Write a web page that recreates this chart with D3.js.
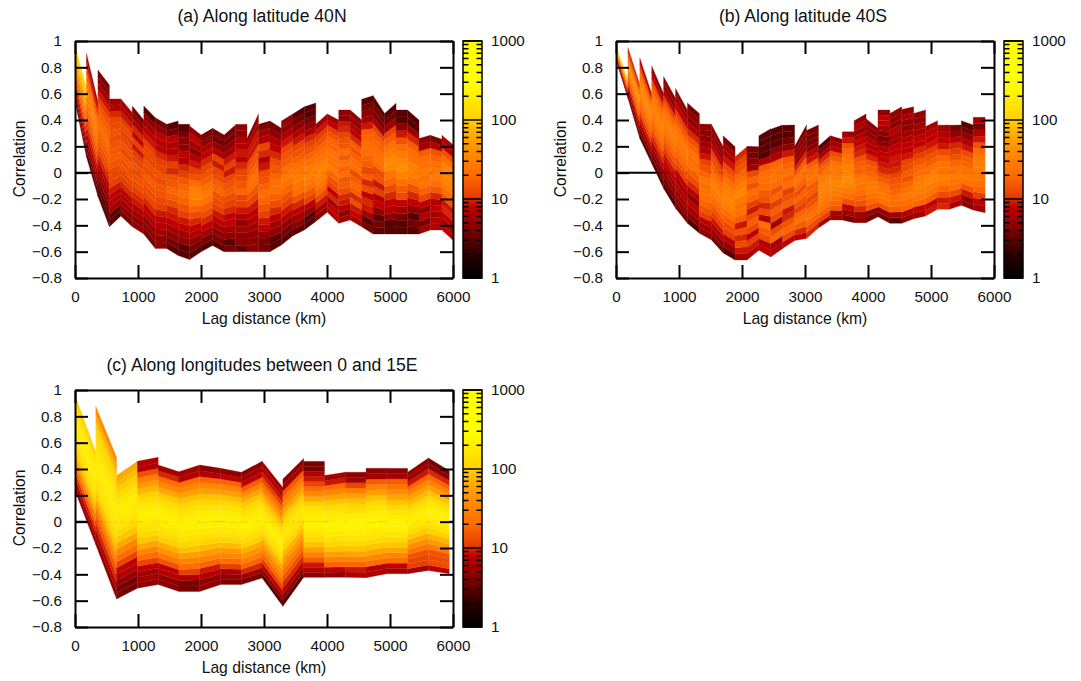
<!DOCTYPE html>
<html>
<head>
<meta charset="utf-8">
<script src="https://cdn.jsdelivr.net/npm/d3@7"></script>
<style>
  body { margin: 0; background: #fff; }
  text { font-family: "Liberation Sans", Arial, sans-serif; fill: #111; }
</style>
</head>
<body>
<span id="chart"></span>
<script>
// (a) along latitude 40N: column edges (km), top edge of each column at its two sides, bottom outline
let northLag = [0,182,364,546,728,910,1092,1274,1456,1638,1820,2002,2184,2366,2548,2730,2912,3094,3276,3458,3640,3822,4004,4186,4368,4550,4732,4914,5096,5278,5460,5642,5824,6006];
let northTopStart = [.97,.906,.78,.56,.56,.506,.506,.418,.367,.367,.354,.286,.337,.286,.367,.26,.367,.392,.392,.446,.50,.367,.446,.476,.476,.557,.585,.45,.476,.476,.26,.284,.284];
let northTopEnd = [.64,.54,.666,.56,.456,.40,.418,.367,.392,.367,.286,.337,.286,.362,.367,.446,.392,.337,.446,.50,.53,.446,.40,.476,.40,.585,.45,.527,.476,.40,.284,.253,.21];
let northBottom = [.54,.12,-.18,-.41,-.33,-.41,-.466,-.575,-.575,-.63,-.66,-.6,-.554,-.6,-.6,-.6,-.6,-.6,-.55,-.48,-.435,-.37,-.30,-.385,-.36,-.41,-.466,-.466,-.466,-.466,-.466,-.435,-.435,-.516];
// counts per stripe, bottom to top
let northCounts = [
  [4,5,7,9,12,16,24,34,50,70,90,110],
  [3,4,6,7,9,11,14,18,22,26,30,26,20,14,9,6],
  [3,3,4,5,6,8,10,12,14,16,18,20,18,16,14,11,9,6,5,4],
  [3,3,6,7,8,9,11,12,13,14,16,15,14,13,14,13,12,10,7,6],
  [4,5,6,7,8,10,11,12,14,14,15,12,14,12,11,13,11,9,7,6],
  [5,5,6,7,9,10,11,13,14,13,14,12,11,9,11,8,10,7,5,4],
  [4,5,5,7,8,10,12,13,14,16,13,14,12,12,11,9,8,6,5,3],
  [5,5,6,7,8,9,11,12,14,15,13,14,12,11,10,8,7,8,5,4],
  [3,4,5,6,8,9,10,13,16,18,15,14,10,11,9,7,7,8,4,3],
  [3,3,5,6,8,9,11,14,17,20,18,15,11,10,7,8,5,5,4,3],
  [3,4,5,7,8,10,13,18,26,34,30,20,14,11,9,7,5,6,8,5],
  [3,4,6,8,10,13,16,22,26,20,16,14,12,10,8,7,5,4],
  [3,4,5,6,8,9,11,13,14,18,16,13,12,9,11,7,5,4,4],
  [4,3,5,6,8,8,10,11,13,16,14,12,9,11,9,6,5,4,4],
  [3,5,5,6,5,7,9,11,12,18,15,13,12,10,8,9,7,7,5,5],
  [5,5,5,6,7,8,9,12,15,20,22,18,15,13,9,9,7,5],
  [4,4,5,8,9,11,14,18,20,17,14,13,9,7,10,12,7,6,4],
  [3,3,5,6,8,10,13,17,20,22,18,15,13,10,8,7,5,4],
  [3,4,5,7,9,11,14,18,22,26,20,16,14,12,9,7,5,5],
  [3,5,6,8,10,14,20,24,28,24,20,17,14,12,9,7,5,4,3],
  [3,3,5,8,11,15,20,26,30,28,22,18,14,12,10,7,5,4,3,3],
  [5,6,9,13,18,24,28,32,30,24,20,18,14,11,9,6],
  [7,8,6,10,8,12,14,18,26,22,24,22,18,18,14,11,8,6],
  [6,5,7,9,10,13,16,15,22,18,22,16,20,15,14,12,10,9,5,5],
  [6,8,9,13,10,16,18,16,13,22,20,17,14,16,10,8,7,5,5],
  [4,3,6,9,10,8,13,10,16,12,16,18,20,20,18,16,9,6,5,4,3],
  [3,4,3,5,8,7,11,9,14,13,20,22,20,18,16,12,6,4,4,3],
  [3,3,5,7,8,10,13,18,24,34,38,28,22,16,12,6,4,3],
  [3,3,4,6,8,13,16,22,34,42,36,28,20,14,9,5,3,3],
  [3,4,3,5,8,10,14,22,30,30,24,20,16,10,6,3,3],
  [6,4,7,5,8,12,17,24,22,26,22,20,16,6,5],
  [7,7,6,8,7,10,15,20,26,24,22,18,14,7,4],
  [8,6,8,10,9,15,20,28,32,36,32,22,14,8,7]
];

// (b) along latitude 40S
let southLag = [0,189,378,567,756,945,1134,1323,1512,1701,1890,2079,2268,2457,2646,2835,3024,3213,3402,3591,3780,3969,4158,4347,4536,4725,4914,5103,5292,5481,5670,5859];
let southTopStart = [.96,.95,.87,.81,.73,.64,.53,.37,.37,.28,.12,.2,.28,.33,.36,.2,.32,.2,.28,.31,.395,.41,.476,.45,.48,.45,.35,.36,.36,.395,.42];
let southTopEnd = [.70,.67,.60,.60,.565,.476,.45,.367,.197,.197,.197,.197,.334,.362,.362,.362,.362,.281,.253,.311,.446,.337,.476,.50,.50,.476,.395,.362,.362,.362,.42];
let southBottom = [.856,.565,.26,.07,-.12,-.27,-.385,-.46,-.51,-.61,-.663,-.663,-.59,-.64,-.575,-.516,-.5,-.42,-.36,-.36,-.38,-.38,-.335,-.385,-.385,-.35,-.33,-.278,-.278,-.248,-.284,-.304];
let southCounts = [
  [4,6,9,13,22,40,70,100],
  [4,5,8,11,16,22,32,42,30,16,10],
  [3,5,6,9,12,16,20,26,32,38,28,20,12,8],
  [3,4,5,8,10,13,17,22,26,30,28,22,18,13,8,5],
  [3,4,5,6,8,9,11,14,18,22,26,28,24,18,12,8,5,5],
  [4,5,6,7,6,8,11,14,18,20,24,26,20,15,11,8,6,5],
  [3,5,6,8,5,7,10,13,16,22,20,24,18,14,10,7,5,5,4],
  [5,6,8,11,14,18,22,24,20,24,18,14,12,9,7,6,5,5,5],
  [4,5,7,9,11,14,18,22,26,30,24,20,16,13,11,8,6,5,5],
  [3,5,8,11,13,16,20,28,34,30,26,20,16,13,9,7,6,4],
  [6,9,13,10,14,9,16,22,20,26,34,28,22,18,14,12,10],
  [7,9,11,8,12,16,13,9,11,18,20,14,18,13,6,5,4,4],
  [8,7,13,16,22,7,13,10,14,16,20,22,20,16,7,3,3,3,3],
  [7,6,18,13,6,13,16,11,18,14,20,24,22,18,7,5,3,3,3],
  [8,13,18,14,10,9,16,14,11,20,18,22,18,15,9,5,4,3,3],
  [8,10,16,22,18,11,14,18,13,17,20,24,16,10,6,5,5,4],
  [10,13,18,22,18,14,12,16,15,22,24,20,16,9,8,5,4,4,4],
  [6,11,16,22,24,28,30,32,30,26,24,18,14,10,7,4,3],
  [6,6,15,18,22,26,30,34,30,26,26,24,16,13,8,6,5],
  [4,6,8,14,20,26,32,38,34,30,26,22,18,14,9,6],
  [5,6,10,14,17,20,24,26,22,18,16,14,10,9,8,7,5,7,5],
  [4,5,14,18,22,26,26,22,18,16,14,10,8,7,7,5,5,5],
  [4,5,14,22,26,22,20,16,13,10,9,8,8,7,5,4,5,6,8,8,5],
  [3,6,16,20,22,18,16,14,12,10,9,9,8,8,6,6,7,5,5,5],
  [5,7,18,20,26,22,18,14,16,13,12,9,8,8,7,6,5,5,7,5],
  [6,8,18,24,28,30,26,20,18,15,11,10,8,8,6,6,5,5],
  [9,8,16,22,26,34,28,22,16,14,11,9,8,8,6],
  [10,9,13,18,26,30,22,24,18,13,9,8,7,6],
  [7,9,13,20,24,26,22,18,14,11,10,8,5,4],
  [5,5,9,14,22,26,22,18,16,13,9,7,5,4,3],
  [6,8,11,18,22,26,28,30,26,20,14,9,7,4,6]
];

// (c) along longitudes between 0 and 15E
let meridLag = [0,330,660,990,1320,1650,1980,2310,2640,2970,3300,3630,3960,4290,4620,4950,5280,5610,5940];
let meridTopStart = [.962,.876,.35,.458,.43,.38,.43,.405,.375,.458,.324,.458,.35,.375,.405,.405,.375,.484];
let meridTopEnd = [.527,.489,.458,.489,.38,.43,.405,.375,.458,.26,.48,.458,.375,.375,.405,.405,.484,.387];
let meridBottom = [.235,-.175,-.587,-.506,-.478,-.53,-.53,-.478,-.478,-.428,-.643,-.423,-.423,-.423,-.425,-.395,-.395,-.37,-.395];
let meridCounts = [
  [5,7,10,16,30,55,85,115,145,170,190,200,190,170,140,100],
  [5,7,10,15,26,50,85,120,150,175,190,190,175,150,125,100,70,40],
  [4,4,5,7,8,12,20,34,60,90,120,150,175,190,190,165,130,100,80,65],
  [5,6,6,8,12,20,36,60,90,120,150,175,200,210,180,140,105,75,50,30,14,7,7],
  [5,5,7,8,14,26,45,70,100,130,160,190,210,200,170,130,95,65,36,20,10,6],
  [4,4,7,11,20,34,55,85,115,150,180,210,210,180,150,115,85,55,36,20,7,6],
  [5,5,7,9,18,32,50,80,110,145,175,205,215,195,155,115,85,55,36,18,7,5],
  [4,5,7,11,20,34,50,80,110,145,180,205,215,195,155,115,85,55,34,18,8,5],
  [4,6,10,18,30,46,70,100,135,170,200,215,190,155,120,90,60,34,16,8,6,5],
  [3,5,8,11,18,30,46,70,100,135,170,200,195,160,125,90,60,36,20,12,9,7,6],
  [3,5,7,10,14,20,32,50,75,105,140,160,160,130,95,65,40,25,15,6,5],
  [5,7,9,16,30,55,85,120,160,190,210,210,185,150,105,70,40,20,12,9,7,4,4],
  [5,8,18,32,55,85,115,150,185,215,225,200,165,125,90,60,36,20,9,6],
  [7,9,18,34,60,90,125,160,195,225,225,195,155,115,85,55,30,12,6,5],
  [7,7,20,36,60,90,125,160,195,225,225,195,160,120,85,55,32,16,6,5],
  [6,8,20,36,60,90,125,165,205,225,205,165,125,90,60,40,24,16,6,5],
  [6,11,12,14,24,42,65,95,130,170,200,190,155,115,80,55,34,18,9,6,5],
  [8,13,13,14,28,50,75,105,145,180,205,205,170,130,90,55,32,18,10,5,4]
];

// shared axis ticks
let xTicks = [0,1000,2000,3000,4000,5000,6000];
let yTicks = [-0.8,-0.6,-0.4,-0.2,0,0.2,0.4,0.6,0.8,1];
let barTicks = [1,10,100,1000];
let barMinor = [2,3,4,5,6,7,8,9,20,30,40,50,60,70,80,90,200,300,400,500,600,700,800,900];

// palette
let paletteCounts = [1,2,3,5,8,10,11,20,40,70,100,200,300,1000];
let paletteColors = ["#000000","#2a0000","#580000","#900000","#c00000","#d42800","#e64000","#ff6c00","#ff8c00","#ffae00","#ffd000","#ffee00","#ffff00","#ffff00"];

let svg = d3.select("#chart").append("svg")
    .attr("width", 1081)
    .attr("height", 681)
    .style("display", "block");

let color = d3.scaleLog().domain(paletteCounts).range(paletteColors).clamp(true);

function drawPanel(p) {
    let left = p.left, top = p.top;
    let right = left + 378, bottom = top + 237;
    let x = d3.scaleLinear().domain([0, 6000]).range([left, right]);
    let y = d3.scaleLinear().domain([-0.8, 1]).range([bottom, top]);
    let clipId = "clip" + left + "_" + top;

    svg.append("clipPath").attr("id", clipId).append("rect")
        .attr("x", left).attr("y", top).attr("width", 378).attr("height", 237);

    // zero axis sits under the map
    svg.append("line")
        .attr("x1", left).attr("x2", right)
        .attr("y1", y(0)).attr("y2", y(0))
        .attr("stroke", "#000").attr("stroke-width", 2);

    let line = d3.line().x(d => x(d[0])).y(d => y(d[1]));
    let map = svg.append("g").attr("clip-path", "url(#" + clipId + ")");

    p.counts.forEach(function (col, i) {
        let n = col.length;
        let x0 = p.lag[i], x1 = p.lag[i + 1];
        let stepL = (p.topStart[i] - p.bottom[i]) / n;
        let stepR = (p.topEnd[i] - p.bottom[i + 1]) / n;
        map.append("g").selectAll("path")
            .data(col)
            .join("path")
            .attr("d", (c, k) => line([
                [x0, p.bottom[i] + stepL * k],
                [x1, p.bottom[i + 1] + stepR * k],
                [x1, p.bottom[i + 1] + stepR * (k + 1)],
                [x0, p.bottom[i] + stepL * (k + 1)]
            ]) + "Z")
            .attr("fill", c => color(c))
            .attr("stroke", c => color(c))
            .attr("stroke-width", 0.3);
    });

    // frame and ticks, mirrored on all four sides
    let styleAxis = function (g) {
        g.selectAll(".domain").attr("stroke", "#000").attr("stroke-width", 2);
        g.selectAll(".tick line").attr("stroke", "#000").attr("stroke-width", 2);
        g.selectAll("text").style("font-size", "15.2px").style("font-family", "Liberation Sans").attr("fill", "#111");
    };
    svg.append("g").attr("transform", "translate(0," + bottom + ")")
        .call(d3.axisBottom(x).tickValues(xTicks).tickSize(-13).tickSizeOuter(0).tickPadding(13).tickFormat(d3.format("d")))
        .call(styleAxis);
    svg.append("g").attr("transform", "translate(0," + top + ")")
        .call(d3.axisTop(x).tickValues(xTicks).tickSize(-13).tickSizeOuter(0).tickFormat(""))
        .call(styleAxis);
    svg.append("g").attr("transform", "translate(" + left + ",0)")
        .call(d3.axisLeft(y).tickValues(yTicks).tickSize(-13).tickSizeOuter(0).tickPadding(13).tickFormat(d => d3.format("")(+d.toFixed(1))))
        .call(styleAxis);
    svg.append("g").attr("transform", "translate(" + right + ",0)")
        .call(d3.axisRight(y).tickValues(yTicks).tickSize(-13).tickSizeOuter(0).tickFormat(""))
        .call(styleAxis);

    // colour box
    let barLeft = right + 10, barW = 19;
    let barY = d3.scaleLog().domain([1, 1000]).range([bottom, top]);
    let steps = d3.range(0, 237);
    svg.append("g").selectAll("rect")
        .data(steps)
        .join("rect")
        .attr("x", barLeft).attr("width", barW)
        .attr("y", d => bottom - d - 1).attr("height", 1.4)
        .attr("fill", d => color(barY.invert(bottom - d - 0.5)));
    svg.append("g").selectAll("line")
        .data(barMinor)
        .join("line")
        .attr("x1", barLeft).attr("x2", barLeft + barW)
        .attr("y1", d => barY(d)).attr("y2", d => barY(d))
        .attr("stroke", "#000").attr("stroke-width", 1.5)
        .attr("stroke-dasharray", "5.5 8 5.5");
    svg.append("g").selectAll("line")
        .data(barTicks)
        .join("line")
        .attr("x1", barLeft).attr("x2", barLeft + barW)
        .attr("y1", d => barY(d)).attr("y2", d => barY(d))
        .attr("stroke", "#000").attr("stroke-width", 1.5);
    svg.append("rect")
        .attr("x", barLeft).attr("y", top).attr("width", barW).attr("height", 237)
        .attr("fill", "none").attr("stroke", "#000").attr("stroke-width", 1.5);
    svg.append("g").attr("transform", "translate(" + (barLeft + barW) + ",0)")
        .call(d3.axisRight(barY).tickValues(barTicks).tickSize(0).tickPadding(9).tickFormat(d3.format("d")))
        .call(styleAxis)
        .call(g => g.select(".domain").remove());

    // titles
    svg.append("text")
        .attr("x", (left + right) / 2 - 2).attr("y", top - 19)
        .attr("text-anchor", "middle").style("font-size", "17.6px")
        .text(p.title);
    svg.append("text")
        .attr("x", (left + right) / 2).attr("y", bottom + 46)
        .attr("text-anchor", "middle").style("font-size", "15.7px")
        .text("Lag distance (km)");
    svg.append("text")
        .attr("transform", "translate(" + (left - 50) + "," + (top + 118) + ") rotate(-90)")
        .attr("text-anchor", "middle").style("font-size", "15.7px")
        .text("Correlation");
}

drawPanel({ left: 75, top: 41, title: "(a) Along latitude 40N", lag: northLag, topStart: northTopStart, topEnd: northTopEnd, bottom: northBottom, counts: northCounts });
drawPanel({ left: 616, top: 41, title: "(b) Along latitude 40S", lag: southLag, topStart: southTopStart, topEnd: southTopEnd, bottom: southBottom, counts: southCounts });
drawPanel({ left: 75, top: 390, title: "(c) Along longitudes between 0 and 15E", lag: meridLag, topStart: meridTopStart, topEnd: meridTopEnd, bottom: meridBottom, counts: meridCounts });
</script>
</body>
</html>
